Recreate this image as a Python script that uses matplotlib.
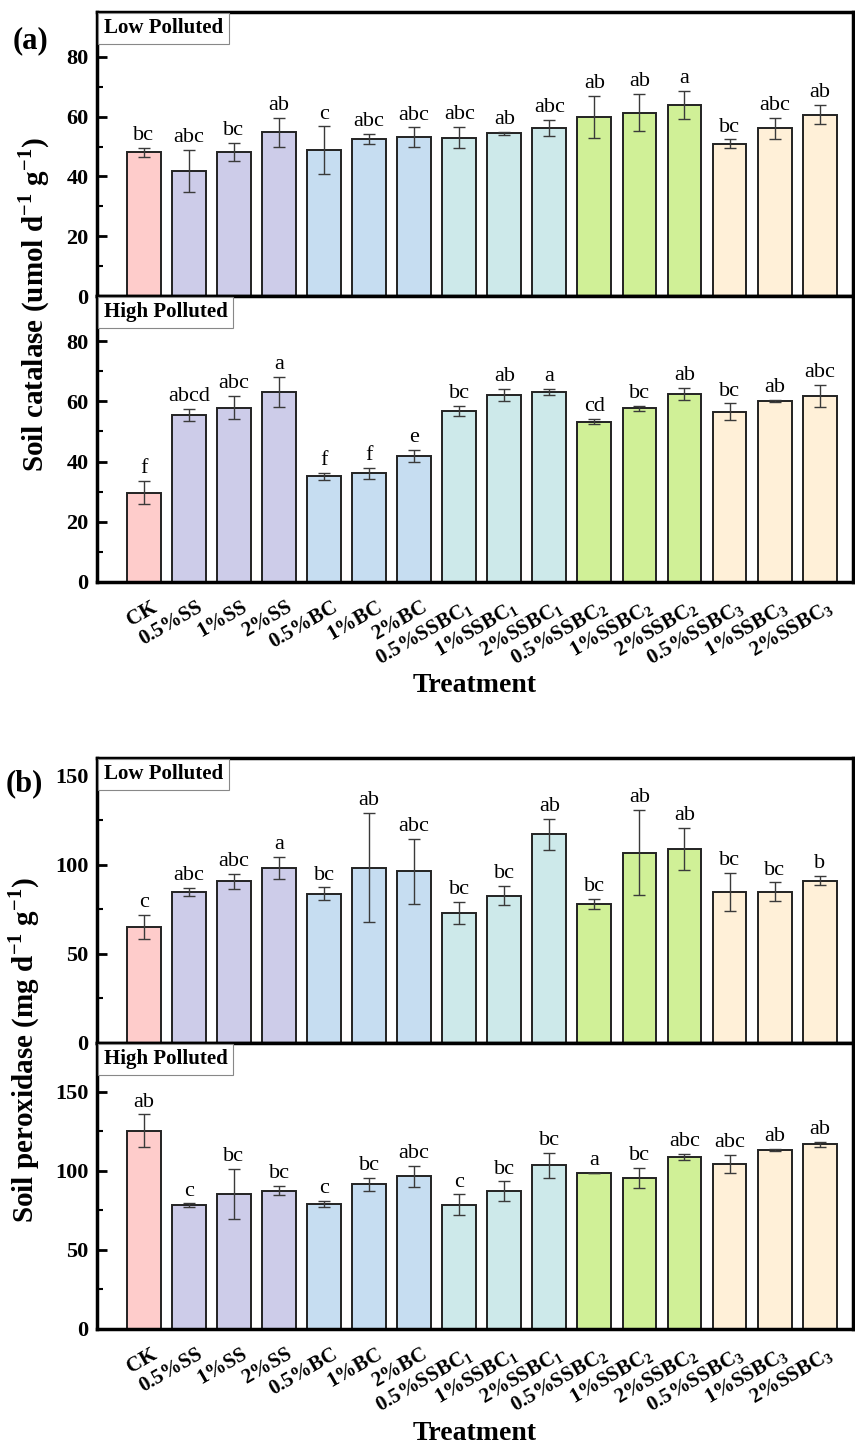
import numpy as np
import matplotlib
matplotlib.use('Agg')
import matplotlib.pyplot as plt
from matplotlib.ticker import MultipleLocator
from matplotlib.transforms import ScaledTranslation

plt.rcParams['font.family'] = ['Liberation Serif', 'DejaVu Serif']
plt.rcParams['mathtext.fontset'] = 'custom'
plt.rcParams['mathtext.rm'] = 'Liberation Serif'
plt.rcParams['mathtext.bf'] = 'Liberation Serif:bold'

treatments = ['CK', '0.5%SS', '1%SS', '2%SS', '0.5%BC', '1%BC', '2%BC',
              r'0.5%SSBC$_\mathbf{1}$', r'1%SSBC$_\mathbf{1}$', r'2%SSBC$_\mathbf{1}$',
              r'0.5%SSBC$_\mathbf{2}$', r'1%SSBC$_\mathbf{2}$', r'2%SSBC$_\mathbf{2}$',
              r'0.5%SSBC$_\mathbf{3}$', r'1%SSBC$_\mathbf{3}$', r'2%SSBC$_\mathbf{3}$']
group_sizes = [1, 3, 3, 3, 3, 3]
group_colors = ['#FECCCB', '#CDCCE9', '#C6DDF1', '#CDE9EA', '#D0F097', '#FFF0D8']

# catalase, low polluted
cat_low = [48.1, 41.8, 48.1, 54.7, 48.8, 52.6, 53.2, 53.0, 54.4, 56.3, 59.9, 61.3, 63.9, 50.9, 56.1, 60.6]
cat_low_err = [1.5, 7.0, 3.1, 5.0, 7.9, 1.7, 3.2, 3.5, 0.4, 2.7, 7.0, 6.2, 4.7, 1.5, 3.5, 3.2]
cat_low_sig = ['bc', 'abc', 'bc', 'ab', 'c', 'abc', 'abc', 'abc', 'ab', 'abc', 'ab', 'ab', 'a', 'bc', 'abc', 'ab']
# catalase, high polluted
cat_high = [29.7, 55.4, 57.9, 63.1, 35.1, 36.1, 42.0, 56.9, 62.2, 63.2, 53.3, 57.7, 62.4, 56.6, 60.2, 61.9]
cat_high_err = [3.9, 2.0, 3.9, 5.0, 1.1, 1.9, 2.0, 1.7, 2.0, 1.0, 0.8, 0.8, 2.0, 2.7, 0.4, 3.7]
cat_high_sig = ['f', 'abcd', 'abc', 'a', 'f', 'f', 'e', 'bc', 'ab', 'a', 'cd', 'bc', 'ab', 'bc', 'ab', 'abc']
# peroxidase, low polluted
per_low = [65.2, 85.0, 90.8, 98.3, 83.7, 98.5, 96.4, 72.9, 82.8, 117.2, 78.1, 106.9, 109.0, 84.7, 84.9, 91.2]
per_low_err = [6.8, 2.2, 4.2, 6.2, 3.6, 30.5, 18.2, 6.2, 5.5, 8.8, 3.0, 23.8, 11.6, 10.7, 5.3, 2.7]
per_low_sig = ['c', 'abc', 'abc', 'a', 'bc', 'ab', 'abc', 'bc', 'bc', 'ab', 'bc', 'ab', 'ab', 'bc', 'bc', 'b']
# peroxidase, high polluted
per_high = [125.4, 78.5, 85.4, 87.5, 79.1, 91.5, 96.6, 78.7, 87.3, 103.5, 98.9, 95.7, 108.8, 104.6, 113.4, 116.8]
per_high_err = [10.4, 1.0, 15.9, 3.0, 2.1, 4.3, 6.7, 6.5, 6.1, 8.1, 0.0, 6.3, 1.8, 5.6, 0.5, 1.7]
per_high_sig = ['ab', 'c', 'bc', 'bc', 'c', 'bc', 'abc', 'c', 'bc', 'bc', 'a', 'bc', 'abc', 'abc', 'ab', 'ab']

colors = []
for n, c in zip(group_sizes, group_colors):
    colors += [c] * n

H = 1449.0
left, width = 97 / 855, 756 / 855


def draw_panel(rect, vals, errs, sig, ymax, major, minor, tag, show_x):
    ax = fig.add_axes(rect)
    x = np.arange(len(vals))
    ax.bar(x, vals, width=0.75, color=colors, edgecolor='#222222', linewidth=1.4, zorder=2)
    ax.errorbar(x, vals, yerr=errs, fmt='none', ecolor='#3a3a3a', elinewidth=1.0,
                capsize=4, capthick=1.0, zorder=3)
    for xi, v, e, s in zip(x, vals, errs, sig):
        ax.annotate(s, (xi, v + e), xytext=(0, 2), textcoords='offset points',
                    ha='center', va='bottom', fontsize=16)
    ax.set_xlim(-1.04, 15.74)
    ax.set_ylim(0, ymax)
    ax.yaxis.set_major_locator(MultipleLocator(major))
    ax.yaxis.set_minor_locator(MultipleLocator(minor))
    ax.tick_params(axis='y', which='major', direction='in', length=7, width=2,
                   labelsize=16, pad=6)
    ax.tick_params(axis='y', which='minor', direction='in', length=4, width=1.5)
    for lab in ax.get_yticklabels():
        lab.set_fontweight('bold')
    ax.set_xticks(x)
    if show_x:
        ax.set_xticklabels(treatments, rotation=30, ha='right', va='top',
                           rotation_mode='anchor', fontsize=15, fontweight='bold')
        ax.tick_params(axis='x', length=0, pad=11)
        shift = ScaledTranslation(5 / 72, 0, fig.dpi_scale_trans)
        for lab in ax.get_xticklabels():
            lab.set_transform(lab.get_transform() + shift)
    else:
        ax.set_xticklabels([])
        ax.tick_params(axis='x', length=0)
    for sp in ax.spines.values():
        sp.set_linewidth(2.5)
    ax.annotate(tag, (0, 1), xycoords='axes fraction', xytext=(5, -4.5),
                textcoords='offset points', ha='left', va='top',
                fontsize=15, fontweight='bold', zorder=5,
                bbox=dict(boxstyle='square,pad=0.27', facecolor='white',
                          edgecolor='#888888', linewidth=0.8))
    return ax


fig = plt.figure(figsize=(8.55, 14.49), dpi=100)

draw_panel([left, 1 - 296 / H, width, 284 / H], cat_low, cat_low_err, cat_low_sig,
           95, 20, 10, 'Low Polluted', False)
draw_panel([left, 1 - 582 / H, width, 286 / H], cat_high, cat_high_err, cat_high_sig,
           95, 20, 10, 'High Polluted', True)
draw_panel([left, 1 - 1043 / H, width, 285 / H], per_low, per_low_err, per_low_sig,
           160, 50, 25, 'Low Polluted', False)
draw_panel([left, 1 - 1329 / H, width, 286 / H], per_high, per_high_err, per_high_sig,
           181, 50, 25, 'High Polluted', True)

fig.text(34 / 855, 1 - 305 / H, r'Soil catalase (umol d$^\mathbf{-1}$ g$^\mathbf{-1}$)',
         rotation=90, ha='center', va='center', fontsize=21, fontweight='bold')
fig.text(24 / 855, 1 - 1050 / H, r'Soil peroxidase (mg d$^\mathbf{-1}$ g$^\mathbf{-1}$)',
         rotation=90, ha='center', va='center', fontsize=21, fontweight='bold')
fig.text(475 / 855, 1 - 686 / H, 'Treatment', ha='center', va='center',
         fontsize=20, fontweight='bold')
fig.text(475 / 855, 1 - 1433 / H, 'Treatment', ha='center', va='center',
         fontsize=20, fontweight='bold')
fig.text(30 / 855, 1 - 41 / H, '(a)', ha='center', va='center', fontsize=22, fontweight='bold')
fig.text(24 / 855, 1 - 784 / H, '(b)', ha='center', va='center', fontsize=22, fontweight='bold')

fig.savefig('out.png', dpi=100)
